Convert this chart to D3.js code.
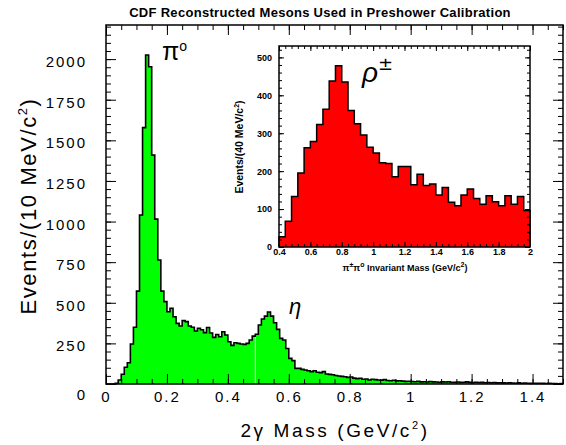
<!DOCTYPE html>
<html>
<head>
<meta charset="utf-8">
<script src="https://cdn.jsdelivr.net/npm/d3@7"></script>
<style>
  html, body { margin: 0; padding: 0; background: #fff; }
  svg { display: block; }
  text { font-family: "Liberation Sans", Arial, sans-serif; fill: #000; }
</style>
</head>
<body>
<svg id="chart" width="566" height="445"></svg>
<script>
// main plot: two-photon mass, 10 MeV bins from 0 to 1.5 GeV
const massBinStart = 0;
const massBinWidth = 0.01;
const massCounts = [
  0, 0, 0, 4, 25, 60, 103, 131, 246, 349,
  572, 1040, 1578, 2025, 1953, 1409, 1015, 763, 572, 507,
  445, 466, 414, 373, 357, 390, 384, 357, 349, 326,
  343, 334, 316, 348, 314, 287, 305, 291, 322, 302,
  260, 238, 254, 250, 246, 244, 250, 271, 295, 306,
  363, 400, 418, 443, 418, 377, 336, 281, 271, 219,
  158, 144, 96, 96, 90, 86, 82, 76, 82, 72,
  70, 76, 62, 59, 57, 52, 49, 47, 45, 41,
  43, 36, 33, 35, 29, 31, 25, 29, 27, 25,
  24, 27, 22, 20, 23, 19, 20, 18, 16, 17,
  15, 14, 16, 13, 14, 12, 15, 13, 12, 11,
  13, 12, 14, 11, 10, 12, 10, 11, 13, 10,
  9, 11, 9, 10, 8, 9, 8, 9, 7, 8,
  7, 6, 8, 6, 5, 7, 5, 6, 5, 4,
  5, 4, 5, 4, 3, 4, 3, 3, 2, 3
];
const massSeam = 0.49;

// inset: pi+- pi0 invariant mass, 40 MeV bins from 0.4 to 2.0 GeV
const rhoBinStart = 0.4;
const rhoBinWidth = 0.04;
const rhoCounts = [
  27, 68, 133, 195, 262, 278, 323, 363, 438, 478,
  435, 360, 325, 295, 263, 248, 222, 220, 185, 212,
  212, 164, 192, 162, 166, 137, 157, 118, 109, 137,
  153, 128, 113, 135, 119, 109, 135, 113, 133, 96
];

const massTicks = [0, 0.2, 0.4, 0.6, 0.8, 1, 1.2, 1.4];
const massTickLabels = ["0", "0.2", "0.4", "0.6", "0.8", "1", "1.2", "1.4"];
const countTicks = [0, 250, 500, 750, 1000, 1250, 1500, 1750, 2000];
const countTickLabels = ["0", "250", "500", "750", "1000", "1250", "1500", "1750", "2000"];
const rhoTicks = [0.4, 0.6, 0.8, 1, 1.2, 1.4, 1.6, 1.8, 2];
const rhoTickLabels = ["0.4", "0.6", "0.8", "1", "1.2", "1.4", "1.6", "1.8", "2"];
const rhoCountTicks = [0, 100, 200, 300, 400, 500];
const rhoCountTickLabels = ["0", "100", "200", "300", "400", "500"];

const svg = d3.select("#chart");

const x = d3.scaleLinear().domain([0, 1.5]).range([106, 563]);
const y = d3.scaleLinear().domain([0, 2210]).range([384, 25]);

const xi = d3.scaleLinear().domain([0.4, 2]).range([279, 530]);
const yi = d3.scaleLinear().domain([0, 530]).range([247, 46]);

function histPoints(start, width, counts) {
  const pts = [[start, 0]];
  counts.forEach((c, i) => pts.push([start + i * width, c]));
  const end = start + counts.length * width;
  pts.push([end, counts[counts.length - 1]]);
  pts.push([end, 0]);
  return pts;
}

function drawHist(g, sx, sy, start, width, counts, fill) {
  const pts = histPoints(start, width, counts);
  g.append("path")
    .attr("d", d3.area()
      .x(d => sx(d[0]))
      .y0(sy(0))
      .y1(d => sy(d[1]))
      .curve(d3.curveStepAfter)(pts))
    .attr("fill", fill);
  return pts;
}

function drawOutline(g, sx, sy, pts, w) {
  g.append("path")
    .attr("d", d3.line()
      .x(d => sx(d[0]))
      .y(d => sy(d[1]))
      .curve(d3.curveStepAfter)(pts))
    .attr("fill", "none")
    .attr("stroke", "#000")
    .attr("stroke-width", w)
    .attr("stroke-linejoin", "miter");
}

// ticks on all four sides, pointing inward
function frameTicks(g, sx, sy, xMajor, xMinor, yMajor, yMinor, lenMajor, lenMinor) {
  const [x0, x1] = sx.range();
  const [y0, y1] = sy.range();
  const sets = [
    [d3.axisBottom(sx), `translate(0,${y0})`, xMajor, lenMajor],
    [d3.axisBottom(sx), `translate(0,${y0})`, xMinor, lenMinor],
    [d3.axisTop(sx), `translate(0,${y1})`, xMajor, lenMajor],
    [d3.axisTop(sx), `translate(0,${y1})`, xMinor, lenMinor],
    [d3.axisLeft(sy), `translate(${x0},0)`, yMajor, lenMajor],
    [d3.axisLeft(sy), `translate(${x0},0)`, yMinor, lenMinor],
    [d3.axisRight(sy), `translate(${x1},0)`, yMajor, lenMajor],
    [d3.axisRight(sy), `translate(${x1},0)`, yMinor, lenMinor]
  ];
  sets.forEach(([ax, tr, vals, len]) => {
    g.append("g")
      .attr("transform", tr)
      .call(ax.tickValues(vals).tickSize(-len).tickFormat(""))
      .call(s => s.select(".domain").remove())
      .selectAll("line")
      .attr("stroke", "#000")
      .attr("stroke-width", 1);
  });
  g.append("rect")
    .attr("x", x0).attr("y", y1)
    .attr("width", x1 - x0).attr("height", y0 - y1)
    .attr("fill", "none")
    .attr("stroke", "#000")
    .attr("stroke-width", 1.5);
}

function range(a, b, step) {
  return d3.range(Math.round(a / step), Math.round(b / step) + 1).map(k => +(k * step).toFixed(4));
}

// ---- main histogram ----
const main = svg.append("g");
const mainPts = drawHist(main, x, y, massBinStart, massBinWidth, massCounts, "#00ff00");

// thin pale seam inside the fill
const seamIdx = Math.round((massSeam - massBinStart) / massBinWidth);
main.append("line")
  .attr("x1", x(massSeam)).attr("x2", x(massSeam))
  .attr("y1", y(0))
  .attr("y2", y(Math.min(massCounts[seamIdx - 1], massCounts[seamIdx])))
  .attr("stroke", "#c8ffc8")
  .attr("stroke-width", 1);

drawOutline(main, x, y, mainPts, 1.6);

frameTicks(main, x, y,
  massTicks, range(0, 1.5, 0.05),
  countTicks, range(0, 2200, 50),
  10, 5);

// tick labels
main.append("g")
  .attr("transform", `translate(0,${y(0)})`)
  .call(d3.axisBottom(x).tickValues(massTicks).tickSize(0).tickPadding(7)
    .tickFormat((d, i) => massTickLabels[i]))
  .call(s => s.select(".domain").remove())
  .selectAll("text")
  .attr("font-family", "Liberation Sans, Arial, sans-serif")
  .attr("font-size", 15)
  .attr("letter-spacing", 2);

main.append("g")
  .attr("transform", `translate(${x(0)},0)`)
  .call(d3.axisLeft(y).tickValues(countTicks).tickSize(0).tickPadding(19)
    .tickFormat((d, i) => countTickLabels[i]))
  .call(s => s.select(".domain").remove())
  .selectAll("text")
  .attr("font-family", "Liberation Sans, Arial, sans-serif")
  .attr("font-size", 15)
  .attr("letter-spacing", 2)
  .attr("dy", d => d === 0 ? "1.0em" : "0.5em");

// titles
svg.append("text")
  .attr("x", 320).attr("y", 17)
  .attr("text-anchor", "middle")
  .attr("font-size", 13)
  .attr("font-weight", "bold")
  .attr("letter-spacing", 0.3)
  .text("CDF Reconstructed Mesons Used in Preshower Calibration");

const xTitle = svg.append("text")
  .attr("x", 335).attr("y", 437)
  .attr("text-anchor", "middle")
  .attr("font-size", 19)
  .attr("letter-spacing", 2.6);
xTitle.append("tspan").text("2γ Mass (GeV/c");
xTitle.append("tspan").attr("font-size", 11).attr("dy", -8).text("2");
xTitle.append("tspan").attr("dy", 8).text(")");

const yTitle = svg.append("text")
  .attr("transform", "translate(36,206) rotate(-90)")
  .attr("text-anchor", "middle")
  .attr("font-size", 22)
  .attr("letter-spacing", 1.6);
yTitle.append("tspan").text("Events/(10 MeV/c");
yTitle.append("tspan").attr("font-size", 13).attr("dy", -9).text("2");
yTitle.append("tspan").attr("dy", 9).text(")");

// peak labels
const piLabel = svg.append("text")
  .attr("x", 162).attr("y", 60)
  .attr("font-family", "DejaVu Sans, sans-serif")
  .attr("font-size", 25);
piLabel.append("tspan").text("π");
piLabel.append("tspan").attr("font-size", 14).attr("dy", -9).text("o");

svg.append("text")
  .attr("x", 289).attr("y", 314)
  .attr("font-family", "DejaVu Serif, serif")
  .attr("font-style", "italic")
  .attr("font-size", 22)
  .text("η");

// ---- inset ----
const inset = svg.append("g");
inset.append("rect")
  .attr("x", xi.range()[0]).attr("y", yi.range()[1])
  .attr("width", xi.range()[1] - xi.range()[0])
  .attr("height", yi.range()[0] - yi.range()[1])
  .attr("fill", "#fff");

const rhoPts = drawHist(inset, xi, yi, rhoBinStart, rhoBinWidth, rhoCounts, "#ff0000");
drawOutline(inset, xi, yi, rhoPts, 1.5);

frameTicks(inset, xi, yi,
  rhoTicks, range(0.4, 2, 0.04),
  rhoCountTicks, range(0, 520, 20),
  5, 3);

inset.append("g")
  .attr("transform", `translate(0,${yi(0)})`)
  .call(d3.axisBottom(xi).tickValues(rhoTicks).tickSize(0).tickPadding(2)
    .tickFormat((d, i) => rhoTickLabels[i]))
  .call(s => s.select(".domain").remove())
  .selectAll("text")
  .attr("font-family", "Liberation Sans, Arial, sans-serif")
  .attr("font-weight", "bold")
  .attr("font-size", 9);

inset.append("g")
  .attr("transform", `translate(${xi(0.4)},0)`)
  .call(d3.axisLeft(yi).tickValues(rhoCountTicks).tickSize(0).tickPadding(7)
    .tickFormat((d, i) => rhoCountTickLabels[i]))
  .call(s => s.select(".domain").remove())
  .selectAll("text")
  .attr("font-family", "Liberation Sans, Arial, sans-serif")
  .attr("font-weight", "bold")
  .attr("font-size", 9);

const ixTitle = svg.append("text")
  .attr("x", 405).attr("y", 271)
  .attr("text-anchor", "middle")
  .attr("font-size", 9)
  .attr("font-weight", "bold");
ixTitle.append("tspan").text("π");
ixTitle.append("tspan").attr("font-size", 7).attr("dy", -4).text("±");
ixTitle.append("tspan").attr("dy", 4).text("π");
ixTitle.append("tspan").attr("font-size", 7).attr("dy", -4).text("o");
ixTitle.append("tspan").attr("dy", 4).text(" Invariant Mass (GeV/c");
ixTitle.append("tspan").attr("font-size", 7).attr("dy", -4).text("2");
ixTitle.append("tspan").attr("dy", 4).text(")");

const iyTitle = svg.append("text")
  .attr("transform", "translate(243,147) rotate(-90)")
  .attr("text-anchor", "middle")
  .attr("font-size", 10.5)
  .attr("font-weight", "bold");
iyTitle.append("tspan").text("Events/(40 MeV/c");
iyTitle.append("tspan").attr("font-size", 7).attr("dy", -4).text("2");
iyTitle.append("tspan").attr("dy", 4).text(")");

const rhoLabel = svg.append("text")
  .attr("x", 362).attr("y", 82)
  .attr("font-family", "DejaVu Serif, serif")
  .attr("font-style", "italic")
  .attr("font-size", 28);
rhoLabel.append("tspan").text("ρ");
rhoLabel.append("tspan").attr("font-family", "DejaVu Sans, sans-serif").attr("font-style", "normal")
  .attr("font-size", 18).attr("dy", -12).text("±");
</script>
</body>
</html>
